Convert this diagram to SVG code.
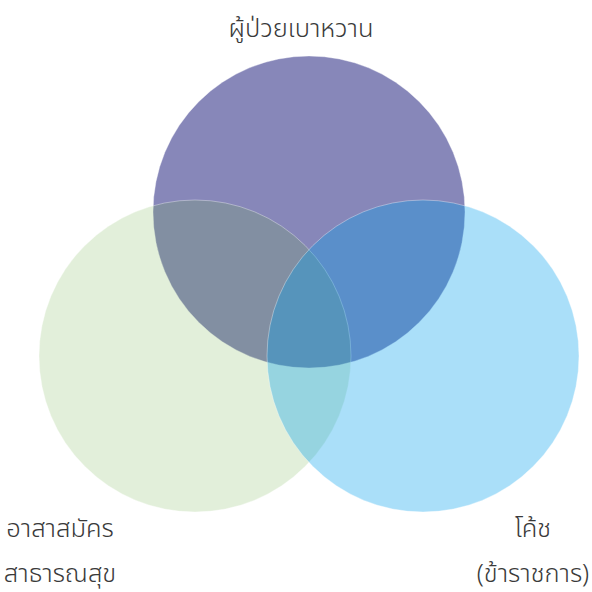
<svg xmlns="http://www.w3.org/2000/svg" width="592" height="592" viewBox="0 0 592 592">
<style>
.c{stroke:#ffffff;stroke-opacity:0.45;stroke-width:0.8}
.t{font-family:"Noto Sans Thai","Noto Sans","DejaVu Sans",sans-serif;font-size:25.5px;fill:#3a3a3a;text-anchor:middle;font-weight:300}
</style>
<rect width="592" height="592" fill="#ffffff"/>
<g id="node-patients">
<circle class="c" cx="309" cy="212" r="156" fill="#8787b9"/>
</g>
<g id="node-volunteers">
<circle class="c" cx="195" cy="356" r="156" fill="#70ad47" fill-opacity="0.2"/>
</g>
<g id="node-coach">
<circle class="c" cx="423" cy="356" r="156" fill="#009fed" fill-opacity="0.333"/>
</g>
<g id="connectors"></g>
<g id="labels">
<text class="t" x="301" y="37">ผู้ป่วยเบาหวาน</text>
<text class="t" x="60" y="537">อาสาสมัคร</text>
<text class="t" x="60" y="582">สาธารณสุข</text>
<text class="t" x="533" y="537">โค้ช</text>
<text class="t" x="533" y="582">(ข้าราชการ)</text>
</g>
</svg>
